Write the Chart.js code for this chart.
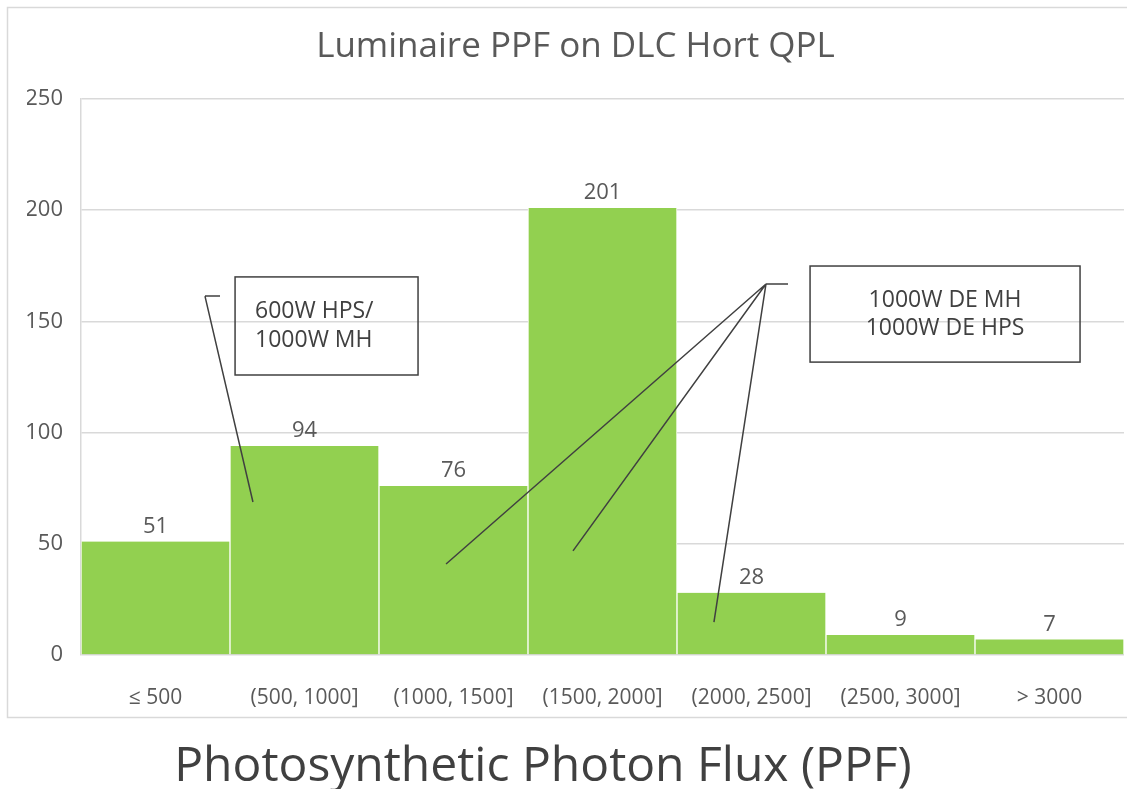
<!DOCTYPE html>
<html>
<head>
<meta charset="utf-8">
<title>Luminaire PPF on DLC Hort QPL</title>
<script src="https://cdn.jsdelivr.net/npm/chart.js@4"></script>
<style>
  html, body { margin: 0; padding: 0; background: #fff; }
  #wrap { width: 1127px; height: 789px; position: relative; }
</style>
</head>
<body>
<div id="wrap"><canvas id="ppfChart"></canvas></div>
<script>
// data
const categories = ['≤ 500', '(500, 1000]', '(1000, 1500]', '(1500, 2000]', '(2000, 2500]', '(2500, 3000]', '> 3000'];
const counts = [51, 94, 76, 201, 28, 9, 7];
const yTicks = [0, 50, 100, 150, 200, 250];

const chartTitle = 'Luminaire PPF on DLC Hort QPL';
const xTitle = 'Photosynthetic Photon Flux (PPF)';

// callout boxes, placed in category units (0 = left edge of plot) and y values
const callouts = [
  {
    box: [1.034, 170, 2.262, 125.9],
    lines: ['600W HPS/', '1000W MH'],
    textX: 1.168, textAlign: 'left', textY: [154.6, 141.6],
    elbow: [0.933, 161.4, 0.832, 161.4],
    targets: [[1.154, 68.8]]
  },
  {
    box: [4.893, 174.9, 6.705, 131.7],
    lines: ['1000W DE MH', '1000W DE HPS'],
    textX: 5.799, textAlign: 'center', textY: [159.6, 147],
    elbow: [4.745, 166.8, 4.597, 166.8],
    targets: [[2.450, 40.9], [3.302, 46.8], [4.248, 14.8]]
  }
];

const frameAndNotes = {
  id: 'frameAndNotes',
  beforeDraw(chart) {
    const ctx = chart.ctx;
    ctx.save();
    ctx.strokeStyle = '#d9d9d9';
    ctx.lineWidth = 1.5;
    ctx.strokeRect(7.5, 7.5, chart.width + 10, 710);
    ctx.restore();
  },
  afterDatasetsDraw(chart) {
    const ctx = chart.ctx;
    const area = chart.chartArea;
    const yScale = chart.scales.y;
    const X = u => area.left + u * (area.right - area.left) / categories.length;
    const Y = v => yScale.getPixelForValue(v);

    // value labels
    const meta = chart.getDatasetMeta(0);
    ctx.save();
    ctx.font = '22px "Open Sans"';
    ctx.fillStyle = '#595959';
    ctx.textAlign = 'center';
    ctx.textBaseline = 'middle';
    meta.data.forEach((bar, i) => {
      ctx.fillText(String(counts[i]), bar.x, bar.y - 15);
    });

    // callouts
    ctx.strokeStyle = '#404040';
    ctx.lineWidth = 1.5;
    ctx.fillStyle = '#404040';
    ctx.font = '23px "Open Sans"';
    callouts.forEach(c => {
      const [x1, y1, x2, y2] = c.box;
      ctx.strokeRect(X(x1), Y(y1), X(x2) - X(x1), Y(y2) - Y(y1));
      ctx.textAlign = c.textAlign;
      c.lines.forEach((t, k) => ctx.fillText(t, X(c.textX), Y(c.textY[k])));
      const [ex1, ey1, ex2, ey2] = c.elbow;
      ctx.beginPath();
      ctx.moveTo(X(ex1), Y(ey1));
      ctx.lineTo(X(ex2), Y(ey2));
      c.targets.forEach(([tx, ty]) => {
        ctx.moveTo(X(ex2), Y(ey2));
        ctx.lineTo(X(tx), Y(ty));
      });
      ctx.stroke();
    });

    // x caption below the frame
    ctx.font = '48px "Open Sans"';
    ctx.fillStyle = '#404040';
    ctx.textAlign = 'center';
    ctx.fillText(xTitle, 543, chart.height - 22);
    ctx.restore();
  }
};

const ctx = document.getElementById('ppfChart').getContext('2d');
const ppfChart = new Chart(ctx, {
  type: 'bar',
  data: {
    labels: categories,
    datasets: [{
      label: 'Luminaires',
      data: counts,
      backgroundColor: '#92d050',
      borderColor: '#ffffff',
      borderWidth: { left: 1, right: 1, top: 0, bottom: 0 },
      barPercentage: 1,
      categoryPercentage: 1
    }]
  },
  options: {
    responsive: true,
    maintainAspectRatio: false,
    animation: false,
    layout: { padding: { top: 0, left: 27, right: 3, bottom: 0 } },
    plugins: {
      legend: { display: false },
      tooltip: { enabled: false },
      title: {
        display: true,
        text: chartTitle,
        color: '#595959',
        font: { family: 'Open Sans', size: 35, weight: 'normal' },
        padding: { top: 26, bottom: 31 }
      }
    },
    scales: {
      x: {
        grid: { display: false },
        border: { display: false },
        ticks: {
          color: '#595959',
          font: { family: 'Open Sans', size: 21 },
          padding: 22,
          maxRotation: 0
        },
        afterFit: s => { s.height = 134; }
      },
      y: {
        min: 0,
        max: 250,
        afterBuildTicks: s => { s.ticks = yTicks.map(v => ({ value: v })); },
        grid: { color: '#d9d9d9', lineWidth: 1.5, drawTicks: false },
        border: { display: true, color: '#d9d9d9', width: 1.5 },
        ticks: {
          color: '#595959',
          font: { family: 'Open Sans', size: 22 },
          padding: 18
        },
        afterFit: s => { s.width = 54; }
      }
    }
  },
  plugins: [frameAndNotes]
});
</script>
</body>
</html>
